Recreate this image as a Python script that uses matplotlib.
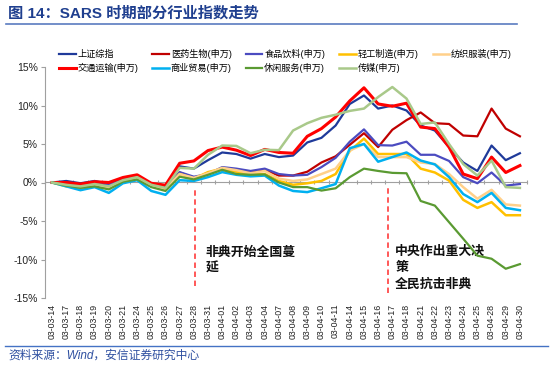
import matplotlib
matplotlib.use('Agg')
import matplotlib.pyplot as plt
from matplotlib.lines import Line2D

plt.rcParams['font.family'] = ['Liberation Sans', 'Noto Sans CJK SC', 'DejaVu Sans']

dates = ['03-03-14', '03-03-17', '03-03-18', '03-03-19', '03-03-20', '03-03-21',
         '03-03-24', '03-03-25', '03-03-26', '03-03-27', '03-03-28', '03-03-31',
         '03-04-01', '03-04-02', '03-04-03', '03-04-04', '03-04-07', '03-04-08',
         '03-04-09', '03-04-10', '03-04-11', '03-04-14', '03-04-15', '03-04-16',
         '03-04-17', '03-04-18', '03-04-21', '03-04-22', '03-04-23', '03-04-24',
         '03-04-25', '03-04-28', '03-04-29', '03-04-30']

szzz = [0, 0.2, -0.1, 0.2, -0.2, 0.5, 0.8, -0.3, -0.6, 2.1, 1.8, 2.9, 3.9, 3.7, 3.1, 3.7, 3.3,
        3.5, 5.2, 5.8, 7.4, 10.2, 11.3, 9.6, 10.0, 9.35, 7.4, 6.75, 4.6, 2.6, 1.5, 4.8, 2.9, 3.8]
yysw = [0, -0.3, -0.4, -0.2, -0.4, 0.3, 0.7, -0.4, -0.8, 1.3, 0.6, 1.1, 1.8, 1.55, 1.3, 1.6, 0.9,
        0.9, 1.4, 2.6, 3.4, 4.9, 6.4, 4.6, 6.85, 8.1, 9.1, 7.7, 7.6, 6.1, 6.0, 9.6, 7.0, 6.0]
spyl = [0, -0.2, -0.4, 0.15, -0.3, 0.3, 0.7, -0.3, -0.7, 1.35, 0.75, 1.1, 2.0, 1.8, 1.5, 1.8, 1.1,
        0.9, 1.0, 2.0, 3.2, 5.3, 6.9, 4.85, 4.8, 5.3, 3.6, 3.6, 2.8, 0.7, -0.1, 1.3, -0.4, -0.2]
qgzz = [0, -0.5, -0.7, -0.4, -0.8, 0.2, 0.5, -0.5, -0.9, 1.1, 0.5, 1.35, 1.8, 1.4, 1.1, 1.1, 0.2,
        -0.3, -0.1, 0.2, 1.1, 4.1, 5.7, 3.7, 3.7, 3.7, 1.8, 1.3, 0.25, -2.25, -3.3, -2.55, -4.25, -4.25]
fzfz = [0, -0.4, -0.6, -0.3, -0.6, 0.2, 0.6, -0.5, -0.8, 1.1, 0.6, 1.2, 1.9, 1.6, 1.2, 1.5, 0.5,
        0.2, 0.4, 1.1, 1.8, 4.15, 5.0, 3.3, 3.3, 3.3, 2.6, 2.4, 1.1, -0.6, -2.1, -0.95, -2.85, -3.0]
jtys = [0, 0, -0.2, 0.1, 0, 0.65, 1.0, -0.1, -0.35, 2.5, 2.8, 4.15, 4.6, 4.2, 3.5, 4.3, 3.9,
        3.8, 6.0, 7.0, 8.5, 10.6, 12.3, 10.2, 9.9, 10.3, 7.2, 7.0, 4.6, 1.1, 0.5, 3.3, 1.3, 2.2]
symy = [0, -0.5, -1.0, -0.6, -1.35, -0.1, 0.3, -1.1, -1.6, 0.3, 0.2, 0.7, 1.35, 1.0, 0.8, 0.9, -0.4,
        -1.1, -1.25, -0.75, -0.2, 4.45, 5.0, 2.7, 3.3, 3.9, 2.85, 2.35, 0.7, -1.5, -2.55, -1.35, -3.3, -3.6]
xxfw = [0, -0.4, -0.7, -0.5, -0.9, 0.1, 0.4, -0.6, -1.1, 0.75, 0.4, 1.0, 1.65, 1.1, 1.0, 1.05, 0.0,
        -0.6, -0.6, -1.05, -0.75, 0.7, 1.8, 1.5, 1.25, 1.2, -2.4, -3.0, -5.15, -7.3, -9.5, -9.9, -11.2, -10.6]
cm = [0, -0.3, -0.5, -0.2, -0.5, 0.3, 0.7, -0.3, -0.7, 1.9, 1.8, 3.6, 4.8, 4.75, 3.8, 4.25, 4.2,
      6.75, 7.7, 8.4, 8.8, 9.3, 9.6, 11.1, 12.4, 10.9, 7.6, 7.8, 5.0, 2.4, 0.9, 2.85, -0.6, -0.7]

names = ['上证综指', '医药生物(申万)', '食品饮料(申万)', '轻工制造(申万)', '纺织服装(申万)',
         '交通运输(申万)', '商业贸易(申万)', '休闲服务(申万)', '传媒(申万)']
values = [szzz, yysw, spyl, qgzz, fzfz, jtys, symy, xxfw, cm]
colors = ['#1F3A9A', '#C00000', '#4B4BC0', '#FFC000', '#FFD08A',
          '#FF0000', '#00B0F0', '#5A9A32', '#A9C98A']
widths = [1.6, 1.6, 1.6, 1.8, 1.8, 2.2, 1.8, 1.6, 1.8]

event_x = [10.1, 23.7]
event_text = ['非典开始全国蔓\n延', '中央作出重大决\n策\n全民抗击非典']

W, H = 550, 365
fig = plt.figure(figsize=(W / 100, H / 100), dpi=100)
ax = fig.add_axes([45 / W, 1 - 298 / H, 482 / W, 231 / H])

x = list(range(len(dates)))
handles = []
for i, (nm, v, c, lw) in enumerate(zip(names, values, colors, widths)):
    h, = ax.plot(x, v, color=c, lw=lw, label=nm, zorder=3 + i)
    handles.append(h)

ax.set_xlim(-0.5, len(dates) - 0.5)
ax.set_ylim(-15, 15)
ax.set_yticks(range(-15, 16, 5))
ax.set_yticklabels([f'{t}%' for t in range(-15, 16, 5)])
ax.tick_params(axis='y', labelsize=7.5, length=3, color='#A0A0A0', pad=2, labelcolor='#222222')
ax.set_xticks(x)
ax.set_xticklabels(dates, rotation=90, fontsize=6.3, color='#222222')
ax.tick_params(axis='x', length=0, pad=4)
for s in ['top', 'right', 'bottom']:
    ax.spines[s].set_visible(False)
ax.spines['left'].set_color('#A0A0A0')

sec = ax.secondary_xaxis(0.5)
sec.set_xticks([i - 0.5 for i in range(len(dates) + 1)])
sec.set_xticklabels([])
sec.tick_params(axis='x', length=3, direction='inout', color='#A0A0A0')
for s in sec.spines.values():
    s.set_color('#A0A0A0')

frac = lambda v: (v + 15) / 30
ax.axvline(event_x[0], ymin=frac(-13.4), ymax=frac(-0.7), color='#FF4B4B', lw=1.3,
           ls=(0, (3, 2)), zorder=2)
ax.axvline(event_x[1], ymin=frac(-14.3), ymax=frac(-0.7), color='#FF4B4B', lw=1.3,
           ls=(0, (3, 2)), zorder=2)
ax.text(event_x[0] + 0.75, -8.3, event_text[0], fontsize=9.3, fontweight='bold', va='top',
        ha='left', linespacing=1.45, color='#111111')
ax.text(event_x[1] + 0.5, -8.2, event_text[1], fontsize=9.3, fontweight='bold', va='top',
        ha='left', linespacing=1.45, color='#111111')

# legend: row-wise order
order = [0, 5, 1, 6, 2, 7, 3, 8, 4]
fig.legend([handles[i] for i in order], [names[i] for i in order], ncol=5, loc='upper left',
           bbox_to_anchor=(59 / W, 1 - 49 / H), frameon=False, fontsize=6.6,
           handlelength=1.8, handletextpad=0.2, columnspacing=1.55, labelspacing=0.45,
           borderpad=0, borderaxespad=0)

fig.text(8 / W, 1 - 13 / H, '图 14：SARS 时期部分行业指数走势', fontsize=11, fontweight='bold',
         color='#1F3F8F', va='center', ha='left')
fig.add_artist(Line2D([6 / W, 517 / W], [1 - 24 / H] * 2, color='#5A7BC0', lw=1.2))
fig.add_artist(Line2D([5 / W, 548 / W], [1 - 346 / H] * 2, color='#4472C4', lw=1.0))
fig.text(8 / W, 1 - 356 / H, '资料来源：Wind，安信证券研究中心', fontsize=8.5, style='italic',
         color='#2E4FA0', va='center', ha='left')

fig.savefig('out.png', dpi=100)
